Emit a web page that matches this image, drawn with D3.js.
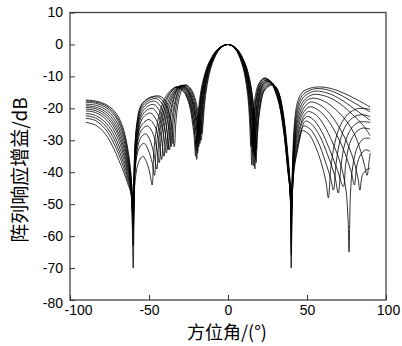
<!DOCTYPE html>
<html lang="zh">
<head>
<meta charset="UTF-8">
<title>阵列响应增益</title>
<script src="https://d3js.org/d3.v7.min.js"></script>
<style>
  body { margin: 0; background: #fff; }
  svg { display: block; font-family: "Liberation Sans", Arial, sans-serif; }
  .axis text { font-size: 14px; fill: #000; }
  .axis path { display: none; }
  .axis line { stroke: #333; stroke-width: 1; }
  .title { font-family: "Noto Sans CJK SC", sans-serif; font-size: 18px; fill: #000; }
</style>
</head>
<body>
<div id="chart"></div>
<script>
// tick labels
const xTicks = [-100, -50, 0, 50, 100];
const yTicks = [10, 0, -10, -20, -30, -40, -50, -60, -70, -80];

// each pattern: [azimuth (deg), gain (dB)]
const g01 = [[-90,-17.4],[-84,-17.7],[-78,-18.6],[-73,-20.3],[-69,-23.0],[-66,-26.8],[-63.5,-32.5],[-61.5,-40],[-60,-52],
  [-59,-44],[-57,-37.5],[-54,-35],[-51,-37.5],[-49.2,-41],[-48,-44],[-47,-34],[-45.5,-27],[-43,-21],[-39,-16],[-33,-13.4],[-28.5,-14.6],[-25,-18],[-22.8,-23.5],[-21.5,-28.5],[-20.5,-35],
  [-19.5,-25.6],[-18.4,-19.2],[-16.4,-12.6],[-12.3,-5.9],[-6.2,-1.3],[0,0],[5,-1.3],[9.9,-5.9],[13.2,-12.6],[14.9,-19.2],[15.7,-25.6],[16.5,-35],
  [17.2,-28],[19,-18.5],[21.5,-13],[25,-11.4],[28.5,-12.4],[31.5,-15.5],[35,-24],[38,-38],[39.3,-45],[40,-52],
  [40.8,-38],[42,-25],[44,-18],[47,-15],[52,-13.7],[58,-13.3],[66,-13.9],[74,-15.4],[82,-17.4],[90,-19.6]];
const g02 = [[-90,-17.7],[-84,-18.0],[-78,-19.0],[-73,-20.9],[-69,-23.8],[-66,-27.7],[-63.5,-33.5],[-61.5,-41],[-60,-48],
  [-59,-40],[-57,-33.5],[-55,-31.5],[-53,-31],[-50.5,-33],[-48,-37],[-46.5,-41],[-45.5,-33],[-44,-26.5],[-41.5,-20.5],[-38,-16],[-32.5,-13.3],[-28,-14.6],[-24.5,-18.2],[-22.3,-23.5],[-21,-28.5],[-20,-33],
  [-19,-25.6],[-18,-19.2],[-16,-12.6],[-12,-5.9],[-6,-1.3],[0,0],[4.8,-1.3],[9.6,-5.9],[12.8,-12.6],[14.4,-19.2],[15.2,-25.6],[16,-38],
  [16.7,-29],[18.5,-18],[21,-12.6],[24.5,-11.0],[28,-11.9],[31.5,-15.2],[35,-23.8],[38,-38.5],[39.3,-46],[40,-56],
  [40.8,-40],[42,-27],[44,-19.5],[47,-16],[52,-14.3],[57,-13.8],[65,-14.5],[73,-16.3],[81,-18.6],[90,-21.1]];
const g03 = [[-90,-18.1],[-84,-18.4],[-78,-19.5],[-73,-21.5],[-69,-24.6],[-66,-28.6],[-63.5,-34.3],[-61.5,-42],[-60,-55],
  [-59,-41],[-57.5,-33],[-55,-29],[-52,-28],[-49.5,-29.8],[-47,-34],[-45,-39],[-44,-31.5],[-42.5,-25],[-40,-19.5],[-36.5,-15.3],[-32,-13.2],[-27.5,-14.5],[-24.2,-18.2],[-22,-23.5],[-20.8,-28.5],[-19.8,-36],
  [-18.8,-25.6],[-17.8,-19.2],[-15.8,-12.6],[-11.9,-5.9],[-5.9,-1.3],[0,0],[5.4,-1.3],[10.8,-5.9],[14.4,-12.6],[16.2,-19.2],[17.1,-25.6],[18,-33],
  [18.7,-27],[20.5,-19.5],[23,-14.5],[27.5,-12.8],[30.5,-13.6],[32.5,-15.8],[35,-21.5],[38,-35],[39.3,-43],[40,-50],
  [40.8,-41],[42,-29],[44,-21],[47,-17],[51,-15.3],[56,-14.6],[64,-15.4],[72,-17.4],[80,-20.2],[90,-23.7]];
const g04 = [[-90,-18.7],[-84,-19.0],[-78,-20.2],[-73,-22.4],[-69,-25.7],[-66,-29.8],[-63.5,-35.5],[-61.5,-42.5],[-60,-50],
  [-59,-40],[-57.5,-31.5],[-55,-27],[-51,-25.5],[-48,-27.3],[-45.5,-31.5],[-43.5,-37],[-42.5,-30],[-41,-24],[-38.5,-18.8],[-35,-15],[-31,-13.1],[-27,-14.4],[-23.8,-18],[-21.7,-22.8],[-20.4,-27],[-19.5,-31],
  [-18.5,-25.6],[-17.6,-19.2],[-15.6,-12.6],[-11.7,-5.9],[-5.9,-1.3],[0,0],[4.5,-1.3],[9,-5.9],[12,-12.6],[13.5,-19.2],[14.3,-25.6],[15,-37.7],
  [15.7,-28],[17.5,-17.5],[20,-12.2],[23,-10.6],[26.5,-11.5],[31.5,-17],[35,-26],[38,-40],[39.3,-46],[40,-62],
  [40.8,-42],[42,-31],[44,-22.5],[47,-18.3],[51,-16.3],[55,-15.6],[63,-16.4],[71,-18.6],[79,-22],[85,-25],[90,-28.5]];
const g05 = [[-90,-19.2],[-84,-19.6],[-78,-20.9],[-73,-23.3],[-69,-26.8],[-66,-31.0],[-63.5,-36.5],[-61.5,-43],[-60,-63],
  [-59,-39],[-57.5,-30.5],[-55,-25.5],[-50,-23.5],[-46.5,-25.4],[-44,-29.5],[-42,-36],[-41,-29],[-39.5,-23],[-37,-18],[-34,-14.8],[-30.5,-13.0],[-26.5,-14.3],[-23.5,-17.8],[-21.4,-23],[-20.1,-28],[-19.2,-34],
  [-18.2,-25.6],[-17.3,-19.2],[-15.4,-12.6],[-11.5,-5.9],[-5.8,-1.3],[0,0],[5.3,-1.3],[10.5,-5.9],[14,-12.6],[15.8,-19.2],[16.6,-25.6],[17.5,-36],
  [18.2,-28.5],[20,-18.8],[22.5,-14],[26.5,-12.3],[30,-13.2],[32.5,-15.8],[35,-22.5],[38,-36.5],[39.3,-44],[40,-53],
  [40.8,-42],[42,-32],[44,-24],[47,-19.5],[50,-17.5],[54,-16.8],[61,-17.8],[68,-20.3],[75,-24],[80,-28],[84,-33.5],[86.5,-38],[88,-41],[89.2,-37],[90,-34]];
const g06 = [[-90,-19.7],[-84,-20.1],[-78,-21.6],[-73,-24.2],[-69,-27.9],[-66,-32.2],[-63.5,-37.5],[-61.5,-43.5],[-60,-49],
  [-59,-38],[-57.5,-29.5],[-55,-24],[-52,-22],[-49,-21.5],[-45.5,-23.5],[-42.5,-28.5],[-40.5,-35],[-39.5,-28],[-38,-22],[-36,-17.8],[-33,-14.5],[-30,-12.9],[-26,-14.2],[-23,-17.6],[-20.9,-22.5],[-19.7,-26.5],[-18.8,-30],
  [-17.9,-25.6],[-16.9,-19.2],[-15,-12.6],[-11.3,-5.9],[-5.6,-1.3],[0,0],[4.7,-1.3],[9.3,-5.9],[12.4,-12.6],[14,-19.2],[14.7,-25.6],[15.5,-34],
  [16.2,-28],[18,-17.8],[20.5,-12.4],[23.5,-10.8],[27,-11.7],[31.5,-16.5],[35,-25.5],[38,-39.5],[39.3,-45],[40,-51],
  [40.8,-43],[42,-33],[44,-25.5],[47,-20.8],[50,-18.7],[53,-18],[59,-19.2],[65,-22],[71,-26.5],[76,-31.5],[80,-37],[82.3,-42],[83.5,-45.6],[85,-41],[87.5,-39.3],[90,-38.7]];
const g07 = [[-90,-20.2],[-84,-20.7],[-78,-22.3],[-73,-25.1],[-69,-29.0],[-66,-33.4],[-63.5,-38.5],[-61.5,-44],[-60,-70],
  [-59,-37],[-57.5,-28.5],[-55,-22.8],[-51.5,-20.6],[-48,-20],[-44.5,-21.8],[-41.5,-26.5],[-39,-34],[-38,-27],[-36.5,-21],[-34.5,-16.8],[-32,-14],[-29.5,-12.9],[-25.8,-14.2],[-22.8,-17.8],[-20.6,-23],[-19.4,-27.5],[-18.5,-32],
  [-17.6,-25.6],[-16.7,-19.2],[-14.8,-12.6],[-11.1,-5.9],[-5.6,-1.3],[0,0],[5.1,-1.3],[10.2,-5.9],[13.6,-12.6],[15.3,-19.2],[16.2,-25.6],[17,-39],
  [17.7,-29],[19.5,-18.5],[22,-13.7],[26,-12.0],[29.5,-12.9],[32,-15.5],[35,-23],[38,-37],[39.3,-45],[40,-58],
  [40.8,-44],[42,-34],[44,-27],[47,-22],[49.5,-20.2],[52,-19.5],[57,-20.5],[63,-23.5],[69,-28.5],[74,-34],[78,-40],[80,-44],[81.5,-38],[84,-34.5],[87,-33],[90,-33.5]];
const g08 = [[-90,-20.8],[-84,-21.3],[-78,-23.1],[-73,-26.2],[-69,-30.3],[-66,-34.7],[-63.5,-39.5],[-61.5,-44.5],[-60,-54],
  [-59,-36],[-57.5,-27.5],[-55,-21.8],[-51,-19.4],[-47,-18.8],[-43.5,-20.6],[-40.5,-25.5],[-38,-33],[-37,-26],[-35.5,-20],[-33.5,-16],[-31.5,-13.8],[-29,-12.8],[-25.5,-14.1],[-22.5,-17.6],[-20.3,-22.5],[-19.1,-26],[-18.2,-29],
  [-17.3,-25.6],[-16.4,-19.2],[-14.6,-12.6],[-10.9,-5.9],[-5.5,-1.3],[0,0],[4.4,-1.3],[8.7,-5.9],[11.6,-12.6],[13.1,-19.2],[13.8,-25.6],[14.5,-32],
  [15.2,-26],[17,-17],[19.5,-12.2],[23,-10.5],[26.5,-11.4],[31.5,-17],[35,-26.5],[38,-40],[39.3,-46],[40,-52],
  [40.8,-44],[42,-35],[44,-28.5],[47,-23.5],[49,-21.7],[51,-21],[56,-22.2],[61,-25.5],[66,-30.5],[71,-37],[74.5,-45],[76,-55],[76.6,-65],[77.5,-47],[79,-38],[82,-32],[86,-29.5],[90,-29.4]];
const g09 = [[-90,-21.6],[-84,-22.2],[-78,-24.2],[-73,-27.5],[-69,-31.8],[-66,-36.0],[-63.5,-40.5],[-61.5,-45],[-60,-50],
  [-59,-35],[-57.5,-26.5],[-55,-20.8],[-50.5,-18.3],[-46,-17.8],[-42.5,-19.6],[-39.5,-24.5],[-37,-33],[-36,-26],[-34.5,-20],[-32.5,-15.8],[-30.5,-13.6],[-28.5,-12.8],[-25,-14.1],[-22,-17.8],[-19.9,-23],[-18.7,-27],[-17.8,-31],
  [-16.9,-25.6],[-16,-19.2],[-14.2,-12.6],[-10.7,-5.9],[-5.3,-1.3],[0,0],[5,-1.3],[10.1,-5.9],[13.4,-12.6],[15.1,-19.2],[16,-25.6],[16.8,-35],
  [17.5,-28],[19.3,-18.5],[21.8,-13.3],[25.5,-11.7],[29,-12.6],[31.5,-15],[35,-23],[38,-37.5],[39.3,-46],[40,-70],
  [40.8,-45],[42,-36],[44,-30],[46.5,-25],[48.5,-23.1],[50,-22.5],[54,-23.5],[59,-27],[64,-32.5],[69,-39],[73,-44.5],[74.5,-37.5],[77,-31],[81,-27.5],[85,-26.2],[90,-26.5]];
const g10 = [[-90,-22.3],[-84,-23.0],[-78,-25.2],[-73,-28.8],[-69,-33.2],[-66,-37.3],[-63.5,-41.5],[-61.5,-45.5],[-60,-58],
  [-59,-34],[-57.5,-25.5],[-55,-20],[-50,-17.5],[-45,-17],[-41.5,-18.8],[-38.5,-23.5],[-36,-32],[-35,-25],[-33.5,-19],[-31.8,-15.3],[-30,-13.4],[-28,-12.7],[-24.5,-14],[-21.6,-17.6],[-19.6,-22],[-18.4,-25.3],[-17.5,-28],
  [-16.6,-24.5],[-15.8,-19.2],[-14,-12.6],[-10.5,-5.9],[-5.3,-1.3],[0,0],[4.6,-1.3],[9.1,-5.9],[12.2,-12.6],[13.7,-19.2],[14.4,-25.6],[15.2,-31],
  [15.9,-26],[17.7,-17.5],[20.2,-12.8],[24,-11.2],[27.5,-12.1],[31.5,-16.2],[35,-25],[38,-39],[39.3,-45.5],[40,-54],
  [40.8,-45],[42,-37],[44,-31.5],[46.5,-26.6],[49,-24],[53,-25],[58,-28.6],[63,-34.5],[67.5,-41],[69.8,-46.5],[71.5,-38],[74,-31],[78,-26.3],[83,-24.3],[90,-24.4]];
const g11 = [[-90,-23.1],[-84,-23.8],[-78,-26.3],[-73,-30.2],[-69,-34.6],[-66,-38.6],[-63.5,-42.5],[-61.5,-46],[-60,-53],
  [-59,-33],[-57.5,-24.5],[-55,-19.3],[-50,-16.9],[-44,-16.5],[-40.5,-18.3],[-37.5,-23],[-35,-31],[-34,-24.5],[-32.5,-18.6],[-30.8,-15],[-29,-13.3],[-27,-12.7],[-23.8,-14],[-21,-17.6],[-19.1,-22.5],[-17.9,-26.5],[-17,-30],
  [-16.2,-25.6],[-15.3,-19.2],[-13.6,-12.6],[-10.2,-5.9],[-5.1,-1.3],[0,0],[5.3,-1.3],[10.7,-5.9],[14.2,-12.6],[16,-19.2],[16.9,-25.6],[17.8,-37],
  [18.5,-29],[20.3,-19.3],[22.8,-14.3],[27,-12.5],[30.3,-13.3],[32.5,-15.6],[35,-22],[38,-36],[39.3,-44],[40,-50],
  [40.8,-46],[42,-38],[44,-32.5],[46,-27.8],[48,-25.5],[52,-26.5],[57,-30.5],[61.5,-36.5],[65,-42],[66.7,-45.6],[68.5,-37],[71,-30],[75,-25],[80,-22.6],[85,-22],[90,-22.6]];
const g12 = [[-90,-24.4],[-84,-25.2],[-78,-27.8],[-73,-31.9],[-69,-36.3],[-66,-40.0],[-63.5,-43.5],[-61.5,-46.5],[-60,-56],
  [-59,-33],[-57.5,-24],[-55,-19],[-49.5,-16.6],[-43,-16.2],[-39.5,-18],[-36.5,-23],[-34,-32],[-33,-24.5],[-31.7,-18.8],[-30,-15.2],[-28.3,-13.4],[-26.5,-12.7],[-23.3,-14],[-20.5,-17.5],[-18.6,-22],[-17.4,-25],[-16.5,-28],
  [-15.7,-24.5],[-14.9,-19.2],[-13.2,-12.6],[-9.9,-5.9],[-5,-1.3],[0,0],[4.9,-1.3],[9.7,-5.9],[13,-12.6],[14.6,-19.2],[15.4,-25.6],[16.2,-33],
  [16.9,-27],[18.7,-18],[21.2,-13.1],[24.8,-11.5],[28.3,-12.4],[31.5,-15.6],[35,-24],[38,-38],[39.3,-45],[40,-66],
  [40.8,-46],[42,-38.5],[44,-33],[45.5,-29.5],[47,-27],[51,-28],[55,-31.5],[59,-37],[62,-43],[63.5,-48],[65,-39],[67.5,-31],[71,-25.5],[76,-21.8],[82,-20.1],[90,-20.3]];

const patterns = [g01, g02, g03, g04, g05, g06, g07, g08, g09, g10, g11, g12];

const width = 402, height = 346;
const plotLeft = 70, plotRight = 386, plotTop = 12.5, plotBottom = 300;

const svg = d3.select("#chart").append("svg")
  .attr("width", width)
  .attr("height", height);

const x = d3.scaleLinear().domain([-100, 100]).range([plotLeft, plotRight]);
const y = d3.scaleLinear().domain([-80, 10]).range([plotBottom, plotTop]);

svg.append("defs").append("clipPath").attr("id", "plot")
  .append("rect").attr("x", plotLeft).attr("y", plotTop)
  .attr("width", plotRight - plotLeft).attr("height", plotBottom - plotTop);

const line = d3.line()
  .x(d => x(d[0]))
  .y(d => y(d[1]))
  .curve(d3.curveCatmullRom.alpha(0.5));

svg.append("g").attr("clip-path", "url(#plot)")
  .selectAll("path")
  .data(patterns)
  .join("path")
  .attr("d", line)
  .attr("fill", "none")
  .attr("stroke", "#000")
  .attr("stroke-width", 0.8);

// frame
svg.append("rect")
  .attr("x", plotLeft).attr("y", plotTop)
  .attr("width", plotRight - plotLeft).attr("height", plotBottom - plotTop)
  .attr("fill", "none")
  .attr("stroke", "#444")
  .attr("stroke-width", 1.3);

// axes with ticks pointing inward, plain hyphen minus like the original
const xAxis = svg.append("g")
  .attr("class", "axis")
  .attr("transform", `translate(0,${plotBottom})`)
  .call(d3.axisBottom(x).tickValues(xTicks).tickFormat(d => String(d)).tickSize(-5).tickPadding(5));
xAxis.selectAll("text").attr("dx", d => d === -100 ? 8 : d === 100 ? 2 : 0);

const yAxis = svg.append("g")
  .attr("class", "axis")
  .attr("transform", `translate(${plotLeft},0)`)
  .call(d3.axisLeft(y).tickValues(yTicks).tickFormat(d => String(d)).tickSize(-5).tickPadding(7));
yAxis.selectAll("text").attr("dy", d => d === -80 ? "0.55em" : "0.32em");

svg.append("text")
  .attr("class", "title")
  .attr("x", 227)
  .attr("y", 339)
  .attr("text-anchor", "middle")
  .text("方位角/(°)");

svg.append("text")
  .attr("class", "title")
  .attr("transform", "translate(27,170) rotate(-90)")
  .attr("text-anchor", "middle")
  .style("font-size", "19px")
  .text("阵列响应增益/dB");
</script>
</body>
</html>
